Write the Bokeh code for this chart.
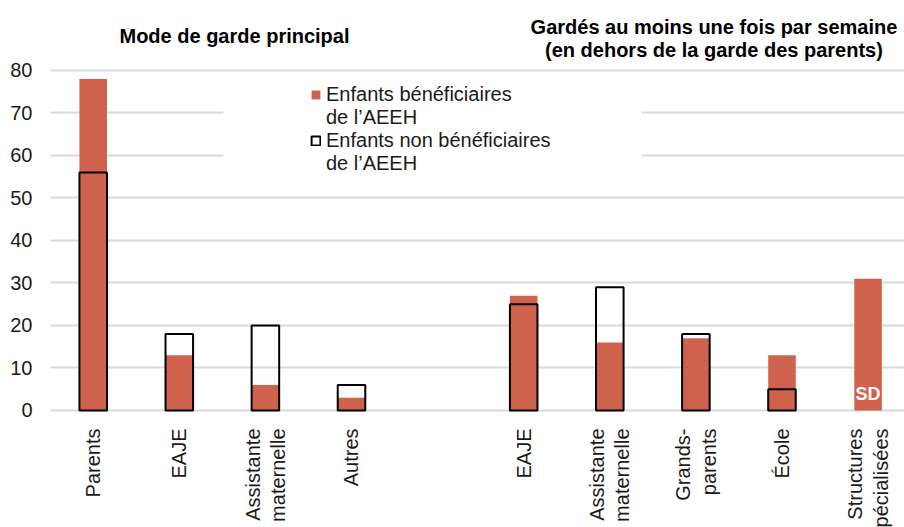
import math
import numpy as np
from bokeh.plotting import figure
from bokeh.models import (ColumnDataSource, FixedTicker, Range1d, Legend,
                          LegendItem, BoxAnnotation)
from bokeh.core.properties import value
from bokeh.embed import file_html
from bokeh.resources import INLINE

# ---- data ----
categories = ["Parents", "EAJE", "Assistante\nmaternelle", "Autres",
              "EAJE", "Assistante\nmaternelle", "Grands-\nparents", "École",
              "Structures\nspécialisées"]
slots = [0, 1, 2, 3, 5, 6, 7, 8, 9]
aeeh = [78, 13, 6, 3, 27, 16, 17, 13, 31]
non_aeeh = [56, 18, 20, 6, 25, 29, 18, 5, None]
missing_label = "SD"
y_ticks = [0, 10, 20, 30, 40, 50, 60, 70, 80]
title_left = "Mode de garde principal"
title_right = ["Gardés au moins une fois par semaine",
               "(en dehors de la garde des parents)"]
legend_aeeh = ["Enfants bénéficiaires", "de l\u2019AEEH"]
legend_non = ["Enfants non bénéficiaires", "de l\u2019AEEH"]

RED = "#CF624C"
FONT = "Liberation Sans"

src = ColumnDataSource(dict(
    x=slots,
    aeeh=aeeh,
    non=[np.nan if v is None else v for v in non_aeeh],
    cat=categories,
))
sd_src = ColumnDataSource(dict(
    x=[s for s, v in zip(slots, non_aeeh) if v is None],
    y=[0 for v in non_aeeh if v is None],
    t=[missing_label for v in non_aeeh if v is None],
))

p = figure(width=904, height=527, output_backend="svg", toolbar_location=None,
           x_range=Range1d(-0.496, 9.423), y_range=Range1d(-27.53, 96.47),
           x_axis_type=None, min_border_left=50, min_border_right=0,
           min_border_top=0, min_border_bottom=0)
p.outline_line_color = None
p.background_fill_color = "white"
p.border_fill_color = "white"

# axes / grid
p.yaxis.ticker = FixedTicker(ticks=y_ticks)
p.ygrid.ticker = FixedTicker(ticks=y_ticks)
p.ygrid.grid_line_color = "#D9D9D9"
p.ygrid.grid_line_width = 2
p.xgrid.grid_line_color = None
p.yaxis.axis_line_color = None
p.yaxis.major_tick_line_color = None
p.yaxis.major_tick_out = 0
p.yaxis.major_tick_in = 0
p.yaxis.minor_tick_line_color = None
p.yaxis.major_label_standoff = 18
p.yaxis.major_label_text_font = FONT
p.yaxis.major_label_text_font_size = "20px"
p.yaxis.major_label_text_color = "#1a1a1a"

# white patch behind the legend (hides gridlines there)
p.add_layout(BoxAnnotation(left=1.513, right=6.37, top=76.6, bottom=55.6,
                           fill_color="white", fill_alpha=1, line_color=None,
                           level="glyph"))

r1 = p.vbar(x="x", top="aeeh", bottom=0, width=0.32, source=src,
            fill_color=RED, line_color=None)
r2 = p.vbar(x="x", top="non", bottom=0, width=0.32, source=src,
            fill_alpha=0, line_color="black", line_width=2)
# empty renderer used only for the second line of each legend entry
r_blank = p.vbar(x=[], top=[], width=0.32, fill_alpha=0, line_alpha=0)

# category labels (rotated)
p.text(x="x", y=0, text="cat", source=src, angle=math.pi / 2,
       text_align="right", text_baseline="middle", y_offset=18,
       text_font=value(FONT), text_font_size="20px", text_color="#1a1a1a",
       text_line_height=1.15)

# SD
p.text(x="x", y="y", text="t", source=sd_src, text_align="center",
       text_baseline="alphabetic", y_offset=-16, text_font=value(FONT),
       text_font_size="18px", text_font_style="bold", text_color="white")

# titles
title_src = ColumnDataSource(dict(
    x=[1.641, 7.21, 7.21],
    y=[88.07, 90.19, 84.82],
    t=[title_left] + title_right,
))
p.text(x="x", y="y", text="t", source=title_src, text_align="center",
       text_baseline="alphabetic", text_font=value(FONT),
       text_font_size="20px", text_font_style="bold", text_color="black")

legend = Legend(items=[LegendItem(label=legend_aeeh[0], renderers=[r1]),
                       LegendItem(label=legend_aeeh[1], renderers=[r_blank]),
                       LegendItem(label=legend_non[0], renderers=[r2]),
                       LegendItem(label=legend_non[1], renderers=[r_blank])],
                location=(260, 352), padding=0, margin=0, spacing=0,
                glyph_width=11, glyph_height=11, label_standoff=5,
                label_height=23,
                label_text_font=FONT, label_text_font_size="20px",
                label_text_color="#1a1a1a",
                background_fill_alpha=0, border_line_alpha=0)
p.add_layout(legend, "center")

open("out.html", "w").write(file_html(p, INLINE))
